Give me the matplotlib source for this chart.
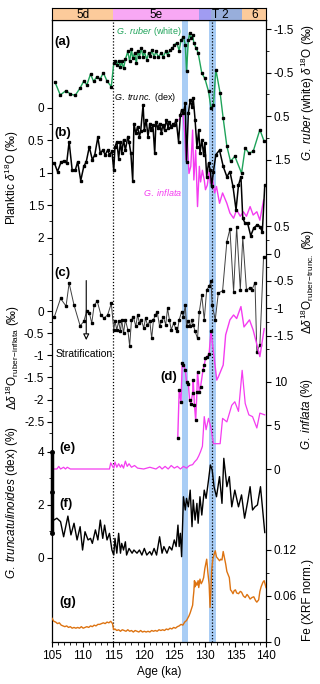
import matplotlib
matplotlib.use('Agg')
import matplotlib.pyplot as plt
import numpy as np

plt.rcParams['font.family'] = ['Liberation Sans', 'DejaVu Sans']
plt.rcParams['mathtext.fontset'] = 'custom'
plt.rcParams['mathtext.rm'] = 'Liberation Sans'
plt.rcParams['mathtext.it'] = 'Liberation Sans:italic'
plt.rcParams['mathtext.bf'] = 'Liberation Sans:bold'
plt.rcParams['axes.unicode_minus'] = False
plt.rcParams['font.size'] = 8

# ---- data (age in ka) ----
# (a) G. ruber (white) d18O
ruber_age = [105.5, 106.35, 107.3, 108.0, 108.8, 109.6, 110.2, 110.7, 111.3, 111.8,
             112.3, 112.9, 113.4, 114.0, 114.7, 115.1, 115.3, 115.6, 115.9, 116.2,
             116.4, 116.7, 117.0, 117.4, 117.7, 118.0, 118.2, 118.5, 118.8, 119.0,
             119.3, 119.6, 119.9, 120.1, 120.5, 120.8, 121.1, 121.3, 121.7, 122.0,
             122.4, 122.8, 123.2, 123.6, 123.9, 124.3, 124.7, 125.0, 125.4, 125.8,
             126.1, 126.5, 126.8, 127.0, 127.3, 127.5, 127.7, 128.0, 128.2, 128.6,
             128.9, 129.5, 130.0, 130.6, 131.0, 131.4, 131.8, 132.5, 133.0, 133.6,
             134.2, 134.9, 136.0, 136.6, 137.2, 137.9, 139.0, 139.7]
ruber_d18o = [-0.28, 0.01, -0.09, -0.01, 0.02, -0.15, -0.31, -0.22, -0.47, -0.30,
              -0.40, -0.36, -0.50, -0.31, -0.18, -0.72, -0.76, -0.68, -0.78, -0.64,
              -0.76, -0.60, -0.81, -0.99, -0.76, -1.04, -0.83, -0.95, -0.72, -1.01,
              -0.87, -1.06, -0.86, -0.99, -0.80, -0.96, -0.89, -1.02, -0.87, -0.99,
              -0.86, -0.95, -0.87, -0.99, -0.91, -1.02, -1.06, -1.14, -1.19, -1.01,
              -1.25, -1.33, -1.14, -0.53, -1.25, -1.41, -1.29, -1.37, -1.18, -1.06,
              -0.96, -0.49, -0.37, -0.07, 0.31, 0.24, -0.57, -0.03, 0.55, 1.19,
              1.54, 1.42, 1.81, 1.23, 1.35, 1.31, 0.81, 1.08]

# (b) G. truncatulinoides (dex) d18O
trunc_age = [105.4, 105.9, 106.5, 107.0, 107.4, 107.8, 108.3, 108.8, 109.2, 109.7,
             110.2, 110.6, 111.1, 111.6, 112.0, 112.5, 112.9, 113.3, 113.7, 114.1,
             114.4, 114.8, 115.1, 115.3, 115.6, 115.9, 116.2, 116.4, 116.7, 117.0,
             117.4, 117.6, 117.9, 118.2, 118.4, 118.7, 119.0, 119.3, 119.5, 119.9,
             120.1, 120.4, 120.7, 121.0, 121.2, 121.5, 121.8, 122.0, 122.3, 122.6,
             122.9, 123.1, 123.4, 123.7, 124.0, 124.2, 124.5, 124.8, 125.0, 125.3,
             125.7, 126.0, 126.2, 126.5, 126.8, 127.0, 127.3, 127.6, 127.9, 128.1,
             128.4, 128.7, 129.0, 129.2, 129.5, 129.8, 130.0, 130.3, 130.6, 130.9,
             131.1, 131.4, 131.8, 132.4, 133.0, 133.6, 134.1, 134.6, 135.1, 135.5,
             135.9, 136.2, 136.6, 137.0, 137.5, 138.0, 138.6, 139.0, 139.4, 139.8]
trunc_d18o = [0.85, 0.98, 0.83, 0.82, 0.85, 0.52, 0.96, 0.96, 0.83, 1.12,
              0.90, 0.83, 0.60, 0.80, 0.72, 0.45, 0.70, 0.65, 0.72, 0.65,
              0.72, 0.67, 0.96, 0.60, 0.52, 0.78, 0.52, 0.70, 0.49, 0.65,
              0.44, 0.52, 0.70, 1.12, 0.24, 0.39, 0.29, 0.44, 0.36, -0.05,
              0.34, 0.18, 0.44, 0.24, 0.34, 0.26, 0.70, 0.21, 0.31, 0.24,
              0.39, 0.26, 0.34, 0.18, 0.31, 0.21, 0.29, 0.24, 0.26, 0.18,
              0.52, 0.11, 0.03, 0.08, -0.07, 0.83, 0.08, -0.12, -0.02, -0.15,
              0.18, 0.60, 0.34, 0.70, 0.49, 0.72, 0.54, 1.06, 0.85, 0.96,
              1.21, 0.98, 0.72, 0.65, 0.90, 1.06, 0.98, 1.21, 1.57, 1.19,
              1.06, 1.70, 1.78, 1.78, 1.97, 1.85, 1.80, 1.83, 1.91, 1.19]

# (b) G. inflata d18O
infl_age = [125.8, 126.1, 126.4, 126.7, 126.9, 127.1, 127.4, 127.7, 128.0, 128.2,
            128.5, 128.8, 129.1, 129.3, 129.6, 129.9, 130.1, 130.4, 130.7, 130.9,
            131.2, 131.6, 131.9, 132.4, 132.9, 133.6, 134.1, 134.7, 135.2, 135.8,
            136.3, 136.8, 137.4, 137.9, 138.5, 139.0, 139.6]
infl_d18o = [0.18, 0.11, 0.08, 0.39, 0.80, 0.44, 1.01, 0.90, 0.34, 1.11,
             0.65, 1.52, 0.90, 1.14, 0.96, 1.11, 1.26, 1.19, 0.98, 1.16,
             1.06, 1.31, 1.21, 1.47, 1.31, 1.47, 1.62, 1.70, 1.57, 1.67,
             1.60, 1.67, 1.52, 1.65, 1.60, 1.73, 1.42]

# (c) delta d18O ruber - trunc
drt_age = [105.4, 106.4, 107.3, 107.8, 108.6, 109.6, 110.2, 110.7, 111.1, 111.5,
           111.9, 112.4, 113.0, 113.5, 114.1, 114.7, 115.1, 115.3, 115.6, 115.9,
           116.2, 116.4, 116.7, 117.0, 117.4, 117.7, 118.0, 118.3, 118.7, 119.0,
           119.3, 119.6, 120.0, 120.3, 120.6, 121.0, 121.3, 121.6, 121.9, 122.2,
           122.6, 122.9, 123.2, 123.6, 123.9, 124.2, 124.5, 124.9, 125.2, 125.5,
           125.8, 126.2, 126.5, 126.8, 127.0, 127.3, 127.6, 127.9, 128.1, 128.4,
           128.8, 129.1, 129.5, 129.9, 130.3, 130.7, 131.0, 131.2, 131.7, 132.2,
           132.9, 133.6, 134.1, 134.7, 135.2, 135.8, 136.2, 136.8, 137.4, 137.7,
           138.2, 138.5, 139.0, 139.6]
drt_val = [-1.15, -0.82, -0.96, -0.54, -0.94, -1.32, -1.24, -1.04, -1.08, -1.27,
           -0.94, -0.87, -1.12, -1.18, -1.12, -0.91, -1.39, -1.24, -1.39, -1.24,
           -1.42, -1.21, -1.45, -1.21, -1.39, -1.69, -1.21, -1.15, -1.33, -1.12,
           -1.27, -1.21, -1.36, -1.18, -1.30, -1.24, -1.55, -1.21, -1.12, -1.06,
           -1.33, -1.24, -1.15, -1.30, -1.00, -1.21, -1.39, -1.27, -1.36, -1.42,
           -1.21, -1.06, -1.15, -0.94, -1.33, -1.24, -1.33, -1.21, -1.30, -1.42,
           -1.55, -1.06, -0.76, -1.21, -0.66, -0.60, -0.51, -0.94, -1.21, -0.72,
           -0.68, 0.22, 0.45, -0.70, 0.49, -0.66, 0.30, -0.66, -0.63, -0.66,
           -0.53, -1.79, -1.67, -0.06]

# (d) delta d18O ruber - inflata
dri_age = [125.57, 125.8, 126.1, 126.3, 126.5, 126.8, 127.0, 127.3, 127.5, 127.7,
           128.0, 128.1, 128.3, 128.5, 128.7, 128.8, 129.1, 129.3, 129.7, 129.9,
           130.1, 130.4, 130.7, 131.0, 131.95, 132.2, 133.0, 133.4, 134.1, 134.7,
           135.2, 135.9, 136.4, 137.3, 137.9, 138.6, 139.0, 139.7]
dri_val = [-2.86, -1.79, -2.05, -1.17, -1.22, -1.33, -1.60, -1.64, -2.01, -2.09,
           -1.86, -1.56, -2.13, -2.47, -1.83, -1.37, -1.83, -1.71, -1.33, -1.22,
           -1.07, -1.03, -0.96, -0.45, -1.56, -1.49, -1.22, -0.54, -0.20, -0.09,
           -0.17, 0.10, -0.36, -0.20, -0.43, -0.81, -1.03, -0.40]

# (e) G. inflata abundance (%)
infl_pct_age = [105.0, 105.8, 106.1, 106.4, 106.9, 107.2, 107.5, 108.0, 109.0, 110.0,
                111.0, 112.0, 113.0, 114.0, 114.4, 114.6, 114.9, 115.1, 115.3, 115.6,
                115.9, 116.2, 116.4, 116.7, 117.0, 117.3, 117.6, 118.0, 118.5, 119.0,
                120.0, 121.0, 122.0, 122.6, 123.0, 123.5, 124.0, 124.5, 125.0, 125.5,
                126.0, 126.5, 127.0, 127.5, 128.0, 128.3, 128.7, 129.0, 129.3, 129.6,
                129.9, 130.2, 130.6, 131.0, 131.4, 131.9, 132.5, 132.9, 133.6, 134.4,
                134.9, 135.5, 136.1, 136.6, 137.2, 137.8, 138.5, 139.0, 139.8]
infl_pct = [0.0, 0.0, 0.3, 0.0, 0.2, 0.0, 0.2, 0.0, 0.0, 0.0,
            0.0, 0.0, 0.0, 0.0, 0.0, 0.7, 0.3, 0.1, 0.8, 0.2,
            0.6, 0.2, 0.5, 0.1, 0.9, 0.3, 0.6, 0.2, 0.4, 0.1,
            0.0, 0.2, 0.0, 0.3, 0.0, 0.3, 0.0, 0.4, 0.1, 0.3,
            0.0, 0.3, 0.1, 0.4, 0.5, 0.8, 1.1, 1.5, 2.0, 2.6,
            6.0, 4.5, 5.8, 4.7, 2.9, 2.9, 2.9, 5.8, 5.4, 7.3,
            7.7, 6.6, 11.3, 7.5, 6.2, 6.0, 4.7, 6.4, 6.2]

# (f) G. truncatulinoides (dex) abundance (%)
trpct_age = [105.3, 105.8, 106.4, 106.9, 107.6, 108.1, 108.6, 109.1, 109.6, 110.0,
             110.4, 110.9, 111.3, 111.6, 112.1, 112.5, 112.9, 113.3, 113.6, 114.0,
             114.4, 114.8, 115.1, 115.3, 115.6, 115.9, 116.2, 116.4, 116.7, 117.0,
             117.2, 117.6, 118.1, 118.4, 118.9, 119.3, 119.7, 120.1, 120.5, 121.0,
             121.3, 121.7, 122.1, 122.6, 123.0, 123.3, 123.8, 124.2, 124.6, 125.0,
             125.3, 125.6, 125.8, 126.0, 126.2, 126.5, 126.8, 127.0, 127.3, 127.6,
             127.9, 128.1, 128.4, 128.7, 128.9, 129.2, 129.5, 129.9, 130.2, 130.6,
             130.9, 131.2, 131.5, 131.9, 132.4, 132.8, 133.1, 133.6, 134.0, 134.4,
             134.9, 135.5, 136.0, 136.5, 137.0, 137.4, 137.8, 138.2, 138.6, 139.1,
             139.8]
trpct = [1.42, 1.49, 1.36, 0.79, 1.57, 0.86, 1.30, 0.67, 1.17, 0.29,
         0.98, 0.67, 0.73, 0.54, 1.05, 0.67, 1.42, 0.73, 1.23, 0.67,
         0.92, 0.29, 0.10, 0.73, 0.17, 0.92, 0.17, 0.54, 0.29, 0.60,
         0.10, 0.35, 0.17, 0.29, 0.17, 0.29, 0.10, 0.35, 0.10, 0.23,
         0.10, 0.35, 0.10, 0.79, 0.17, 0.42, 0.17, 0.42, 0.29, 0.67,
         0.42, 1.23, 0.42, 0.92, 0.04, 2.30, 1.80, 2.24, 1.92, 2.55,
         1.17, 2.18, 1.42, 2.05, 1.30, 2.30, 1.61, 2.55, 2.24, 2.93,
         3.50, 3.31, 2.68, 2.30, 3.06, 2.05, 3.75, 2.68, 3.06, 1.92,
         2.55, 1.92, 2.37, 1.49, 2.11, 2.68, 1.80, 1.92, 1.99, 2.68,
         0.95]

# (g) Fe (XRF normalised)
fe_age = [105.0, 105.3, 105.6, 105.9, 106.2, 106.5, 106.8, 107.1, 107.4, 107.7,
          108.0, 108.3, 108.6, 108.9, 109.2, 109.5, 109.8, 110.1, 110.4, 110.7,
          111.0, 111.3, 111.6, 111.9, 112.2, 112.5, 112.8, 113.1, 113.4, 113.7,
          114.0, 114.3, 114.6, 114.9, 115.0, 115.1, 115.3, 115.6, 115.9, 116.2,
          116.5, 116.8, 117.1, 117.4, 117.7, 118.0, 118.3, 118.6, 118.9, 119.2,
          119.5, 119.8, 120.1, 120.4, 120.7, 121.0, 121.3, 121.6, 121.9, 122.2,
          122.5, 122.8, 123.1, 123.4, 123.7, 124.0, 124.3, 124.6, 124.9, 125.2,
          125.5, 125.8, 126.1, 126.4, 126.7, 127.0, 127.2, 127.4, 127.6, 127.8,
          128.0, 128.1, 128.2, 128.3, 128.4, 128.5, 128.7, 128.9, 129.0, 129.2,
          129.4, 129.6, 129.8, 130.0, 130.2, 130.3, 130.5, 130.7, 130.85, 131.0,
          131.1, 131.3, 131.5, 131.7, 131.9, 132.1, 132.4, 132.6, 132.8, 133.0,
          133.2, 133.4, 133.6, 133.8, 134.0, 134.2, 134.4, 134.6, 134.8, 135.0,
          135.2, 135.5, 135.8, 136.0, 136.3, 136.6, 136.9, 137.1, 137.4, 137.7,
          138.0, 138.3, 138.5, 138.8, 139.0, 139.2, 139.5, 139.7, 140.0]
fe_val = [0.031, 0.027, 0.026, 0.024, 0.025, 0.022, 0.021, 0.020, 0.021, 0.019,
          0.020, 0.018, 0.019, 0.018, 0.019, 0.018, 0.020, 0.018, 0.019, 0.020,
          0.019, 0.021, 0.020, 0.022, 0.021, 0.023, 0.023, 0.024, 0.025, 0.024,
          0.026, 0.025, 0.027, 0.024, 0.019, 0.016, 0.017, 0.015, 0.016, 0.014,
          0.016, 0.015, 0.014, 0.016, 0.014, 0.015, 0.013, 0.015, 0.014, 0.013,
          0.015, 0.013, 0.014, 0.013, 0.014, 0.013, 0.015, 0.014, 0.015, 0.014,
          0.016, 0.015, 0.016, 0.015, 0.017, 0.016, 0.018, 0.017, 0.019, 0.018,
          0.020, 0.021, 0.023, 0.022, 0.026, 0.028, 0.031, 0.034, 0.038, 0.043,
          0.048, 0.058, 0.066, 0.080, 0.072, 0.078, 0.074, 0.080, 0.071, 0.082,
          0.076, 0.079, 0.084, 0.096, 0.104, 0.108, 0.090, 0.075, 0.045, 0.070,
          0.092, 0.108, 0.114, 0.119, 0.111, 0.109, 0.106, 0.108, 0.107, 0.118,
          0.110, 0.102, 0.092, 0.088, 0.084, 0.068, 0.066, 0.063, 0.067, 0.068,
          0.064, 0.063, 0.066, 0.065, 0.060, 0.058, 0.062, 0.060, 0.056, 0.058,
          0.059, 0.054, 0.052, 0.055, 0.066, 0.072, 0.078, 0.080, 0.071]

stage_names = ['5d', '5e', '', 'T 2', '6']
stage_edges = [105, 115, 129, 131, 136, 140]
stage_colors = ['#fccb9b', '#f8a8f4', '#a09cf2', '#98aedb', '#fccb9b']

# ---- layout (pixel helpers) ----
W, H = 320, 684
fig = plt.figure(figsize=(W / 100, H / 100), dpi=100)
PL, PR, PT, PB = 52, 266, 20, 642
rect = [PL / W, 1 - PB / H, (PR - PL) / W, (PB - PT) / H]


def lims(v1, p1, v2, p2):
    s = (p2 - p1) / (v2 - v1)
    return v1 + (PB - p1) / s, v1 + (PT - p1) / s


def ftext(px, py, s, **kw):
    fig.text(px / W, 1 - py / H, s, **kw)


def ylab(px, py, s):
    ftext(px, py, s, rotation=90, ha='center', va='center', fontsize=8.5,
          rotation_mode='anchor')


ax0 = fig.add_axes(rect)
ax0.set_xlim(105, 140)
ax0.set_ylim(0, 1)
ax0.set_yticks([])
ax0.set_xticks(np.arange(105, 141, 5))
ax0.set_xticks(np.arange(105, 141, 1), minor=True)
ax0.tick_params(axis='x', which='major', direction='out', length=3.5, width=0.8, pad=2, labelsize=8.5)
ax0.tick_params(axis='x', which='minor', direction='out', length=2, width=0.6)
for s in ax0.spines.values():
    s.set_linewidth(0.9)
ax0.set_xlabel('Age (ka)', fontsize=8.5, labelpad=3)
ax0.axvspan(126.2, 127.3, color='#a9cdf5', lw=0)
ax0.axvspan(130.7, 131.8, color='#a9cdf5', lw=0)
ax0.axvline(115, color='k', ls=(0, (1, 1.5)), lw=0.9)
ax0.axvline(131.2, color='k', ls=(0, (1, 1.5)), lw=0.9)

# stage band on top
axb = fig.add_axes([PL / W, 1 - PT / H, (PR - PL) / W, 12 / H])
axb.set_xlim(105, 140)
axb.set_ylim(0, 1)
axb.set_xticks([])
axb.set_yticks([])
for i in range(len(stage_names)):
    axb.axvspan(stage_edges[i], stage_edges[i + 1], color=stage_colors[i], lw=0)
axb.text(110, 0.45, '5d', ha='center', va='center', fontsize=8.5)
axb.text(122, 0.45, '5e', ha='center', va='center', fontsize=8.5)
axb.text(132.5, 0.45, 'T 2', ha='center', va='center', fontsize=8.5)
axb.text(138.1, 0.45, '6', ha='center', va='center', fontsize=8.5)
for s in axb.spines.values():
    s.set_linewidth(0.8)


def overlay(side, lim, major, minor):
    ax = fig.add_axes(rect)
    ax.patch.set_visible(False)
    for s in ax.spines.values():
        s.set_visible(False)
    ax.set_xlim(105, 140)
    ax.xaxis.set_visible(False)
    ax.set_ylim(*lim)
    ax.yaxis.set_ticks_position(side)
    ax.set_yticks(major, labels=['{:g}'.format(v) for v in major])
    ax.set_yticks(minor, minor=True)
    ax.tick_params(axis='y', which='major', direction='out', length=3.5, width=0.8, pad=2, labelsize=8.5)
    ax.tick_params(axis='y', which='minor', direction='out', length=2, width=0.6)
    return ax


mk = dict(marker='s', ms=1.5, mfc='k', mec='k')

# (a)
ax_a = overlay('right', lims(-1.5, 29.3, 1.5, 159.7), [-1.5, -0.5, 0.5, 1.5], [-1, 0, 1])
ax_a.plot(ruber_age, ruber_d18o, color='#1fa35a', lw=1.0, **mk)
ylab(308, 93, r'$\it{G.\ ruber}$ (white) $\delta^{18}$O (‰)')

# (b)
ax_b = overlay('left', lims(0, 108, 2, 237.7), [0, 0.5, 1, 1.5, 2], [0.25, 0.75, 1.25, 1.75, 2.25])
ax_b.plot(infl_age, infl_d18o, color='#f43cf0', lw=1.0)
ax_b.plot(trunc_age, trunc_d18o, color='k', lw=1.1, **mk)
ylab(12, 178, r'Planktic $\delta^{18}$O (‰)')

# (c)
ax_c = overlay('right', lims(0.5, 226.2, -1.5, 335.7), [0.5, 0, -0.5, -1, -1.5],
               [0.25, -0.25, -0.75, -1.25, -1.75])
ax_c.plot(drt_age, drt_val, color='#404040', lw=0.7, **mk)
ylab(308, 282, r'$\Delta\delta^{18}$O$_{\rm ruber\!-\!trunc.}$ (‰)')

# (d)
ax_d = overlay('left', lims(0, 311, -2.5, 421.7), [0, -0.5, -1, -1.5, -2, -2.5],
               [0.25, -0.25, -0.75, -1.25, -1.75, -2.25, -2.75])
dri_age_a = np.array(dri_age)
dri_val_a = np.array(dri_val)
ax_d.plot(dri_age_a, dri_val_a, color='#f43cf0', lw=1.0)
early = dri_age_a <= 131.2
ax_d.plot(dri_age_a[early], dri_val_a[early], ls='none', **mk)
ylab(13, 358, r'$\Delta\delta^{18}$O$_{\rm ruber\!-\!inflata}$ (‰)')
ax_d.annotate('', xy=(110.6, -0.72), xytext=(110.6, 0.75),
              arrowprops=dict(arrowstyle='-|>', fc='white', ec='k', lw=0.8, mutation_scale=9))
ax_d.text(110.2, -0.97, 'Stratification', ha='center', va='center', fontsize=7.5)

# (e)
ax_e = overlay('right', lims(0, 469, 10, 381.7), [0, 5, 10], [])
ax_e.plot(infl_pct_age, infl_pct, color='#f43cf0', lw=0.9)
ylab(307, 414, r'$\it{G.\ inflata}$ (%)')

# (f)
ax_f = overlay('left', lims(0, 557.7, 4, 451.7), [0, 2, 4], [1, 3])
ax_f.plot(trpct_age, trpct, color='k', lw=1.0)
ax_f.plot([105, 105], [0.93, 4], color='k', lw=2.5, clip_on=False)
ax_f.plot([105, 105, 105], [0.93, 2.47, 4], ls='none', marker='o', ms=2.5, color='k', clip_on=False)
ylab(12, 503, r'$\it{G.\ truncatulinoides}$ (dex) (%)')

# (g)
ax_g = overlay('right', lims(0, 642, 0.12, 550), [0, 0.06, 0.12], [0.03, 0.09])
ax_g.plot(fe_age, fe_val, color='#dd7311', lw=1.0)
ylab(308, 600, 'Fe (XRF norm.)')

# panel annotations
bold = dict(fontsize=9.5, fontweight='bold', ha='left', va='center')
ftext(54, 42, '(a)', **bold)
ftext(54, 133, '(b)', **bold)
ftext(54, 273, '(c)', **bold)
ftext(160, 377, '(d)', **bold)
ftext(59, 448, '(e)', **bold)
ftext(59, 504, '(f)', **bold)
ftext(59, 602, '(g)', **bold)
ftext(116, 31, r'$\it{G.\ ruber}$ (white)', color='#1fa35a', fontsize=6.5, ha='left', va='center')
ftext(114, 98, r'$\it{G.\ trunc.}$ (dex)', color='k', fontsize=6.5, ha='left', va='center')
ftext(143, 193, r'$\it{G.\ inflata}$', color='#f43cf0', fontsize=6.5, ha='left', va='center')

fig.savefig('out.png', dpi=100)
